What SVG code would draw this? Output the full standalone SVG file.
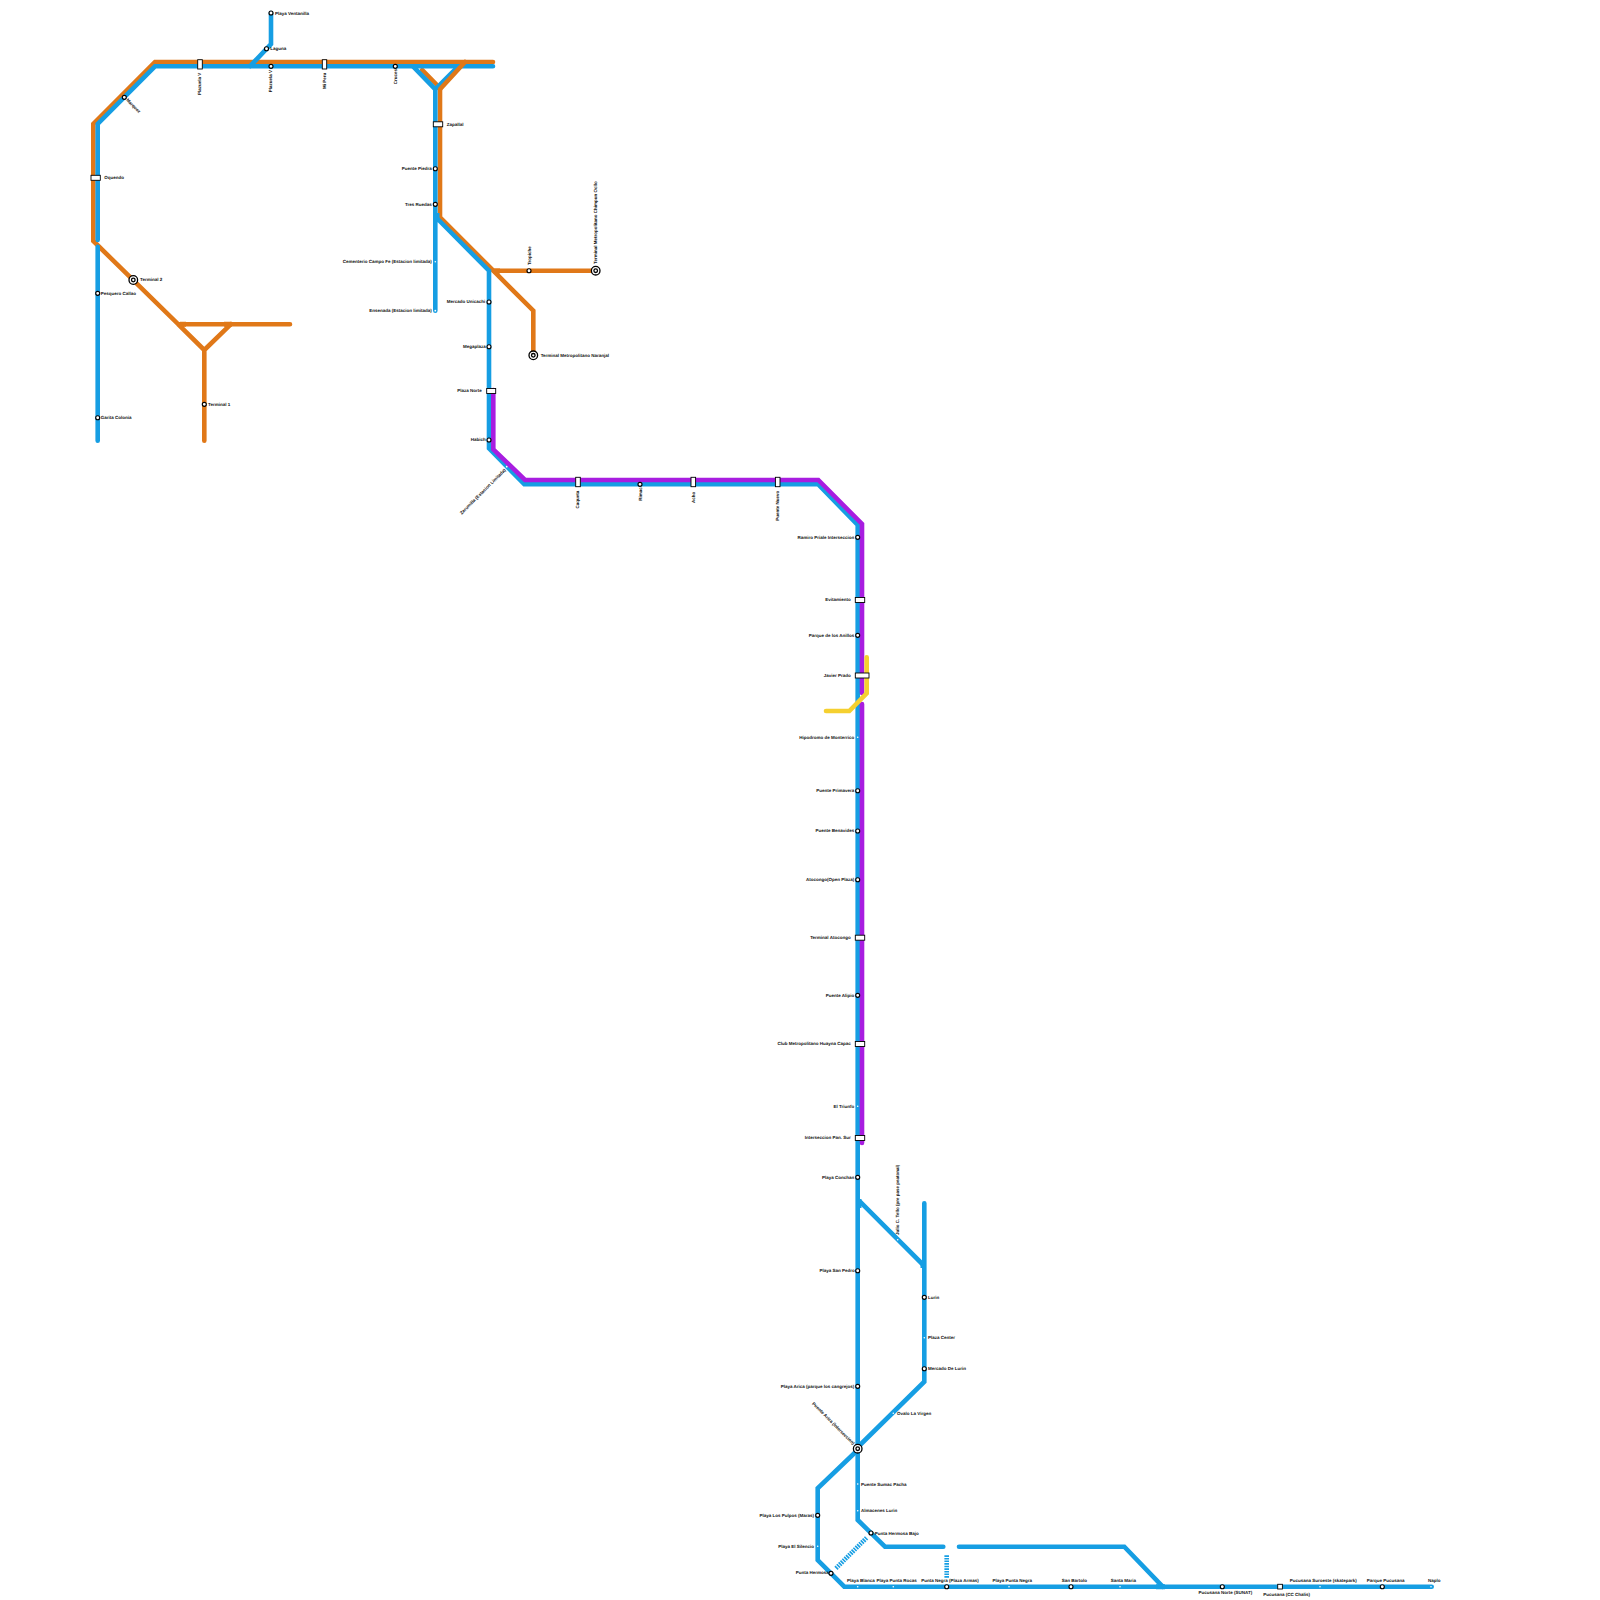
<svg xmlns="http://www.w3.org/2000/svg" width="1600" height="1600" viewBox="0 0 1600 1600">
<defs><style>
.l{fill:none;stroke-width:4.6;stroke-linecap:round;stroke-linejoin:miter}
.t{fill:none;stroke-width:5}
.b{stroke:#169ee3}.o{stroke:#e07818}.p{stroke:#a81de0}.y{stroke:#f5d030}
.d{fill:none;stroke:#169ee3;stroke-width:4.6;stroke-dasharray:1.6 1}
.c{fill:#fff;stroke:#000;stroke-width:1.15}
.h{fill:#fff;stroke:#000;stroke-width:1.3}
.s{fill:#fff;stroke:#000;stroke-width:.9}
.x{fill:#fff}
text{font-family:"Liberation Sans",Arial,sans-serif;font-size:4.5px;font-weight:700;fill:#111;dominant-baseline:central;text-rendering:geometricPrecision}
.e{text-anchor:end}.m{text-anchor:middle}
</style></defs>
<rect width="1600" height="1600" fill="#fff"/>
<g id="connectors">
<path class="l o" d="M493 62H155L93.300 124V241L178.300 324.300H290M178.300 324.300L204.300 350V440.700M204.300 350L230.700 324.300"/>
<path class="t o" d="M180 324.300H186M224 324.300H232"/>
<path class="l o" d="M440 89.300V217.300L493.300 270.700H595.700M493.300 270.700L533.300 310.700V355.300M422.300 70L436 84"/>
<path class="t o" d="M493 271H500"/>
<path class="l b" d="M271 13V44L250 66.300M493 66.300H155L97.700 124V240M97.700 246.700V440.700"/>
<path class="l b" d="M413.300 66.700L435.300 89.300V310.700M435.300 89.300L458 66.700M436.700 218L489 270.700V448.300L524.300 484.300H818.300L857.700 525V1520L885 1546.700H943.300M959 1546.700H1124.300L1162.700 1586.700"/>
<path class="l o" d="M465 62L440 89.300"/>
<path class="l p" d="M493.300 390V449.300L525 480H818.300L862 524V693M862 704V1143"/>
<path class="l b" d="M860 1201.700L923.300 1265M924.300 1203.300V1381.700L860 1445M857.700 1450L817.700 1488.300V1560L844.300 1586.700H1431.700"/>
<path class="t b" d="M859 1199V1208M923 1261V1268M437 213V222M1156 1586.700H1165"/>
<path class="d" d="M836 1568.300L866.700 1537.700M946.700 1555.300V1578"/>
<path class="l y" d="M866.700 657.300V693.300L849.300 711H826"/>
</g>
<g id="st-ventanilla"><circle class="c" cx="271" cy="13" r="2"/><text x="275" y="13">Playa Ventanilla</text></g>
<g id="st-laguna"><circle class="c" cx="266.500" cy="48.700" r="2"/><text x="270.300" y="48.300">Laguna</text></g>
<g id="st-plazuela1"><rect class="s" x="197.700" y="59.700" width="4.600" height="9.300"/><text class="e" transform="translate(199.700 72.700) rotate(-90)">Plazuela V</text></g>
<g id="st-plazuela2"><circle class="c" cx="271" cy="66.300" r="2"/><text class="e" transform="translate(270.700 70) rotate(-90)">Plazuela V</text></g>
<g id="st-miperu"><rect class="s" x="322.300" y="59.700" width="4.400" height="9.300"/><text class="e" transform="translate(324.300 72.700) rotate(-90)">Mi Peru</text></g>
<g id="st-cruces"><circle class="c" cx="395.300" cy="66.300" r="2"/><text class="e" transform="translate(395.300 69) rotate(-90)">Cruces</text></g>
<g id="st-marquez"><circle class="c" cx="124.300" cy="97.300" r="2"/><text transform="translate(127 99.300) rotate(45)">Marquez</text></g>
<g id="st-oquendo"><rect class="s" x="91" y="175.300" width="9.300" height="5"/><text x="104.300" y="177.300">Oquendo</text></g>
<g id="st-terminal2"><circle class="h" cx="133.300" cy="280" r="4.300"/><circle class="h" cx="133.300" cy="280" r="1.800"/><text x="140" y="279.300">Terminal 2</text></g>
<g id="st-pesquero"><circle class="c" cx="97.700" cy="293.300" r="2"/><text x="100.700" y="293">Pesquero Callao</text></g>
<g id="st-garita"><circle class="c" cx="97.700" cy="417.700" r="2"/><text x="100.700" y="417.300">Garita Colonia</text></g>
<g id="st-terminal1"><circle class="c" cx="204.300" cy="404.300" r="2"/><text x="208" y="404">Terminal 1</text></g>
<g id="st-zapallal"><rect class="s" x="433.300" y="121.800" width="9.400" height="5"/><text x="446.700" y="124">Zapallal</text></g>
<g id="st-puentepiedra"><circle class="c" cx="435.300" cy="168.700" r="2"/><text class="e" x="431.700" y="168.300">Puente Piedra</text></g>
<g id="st-tresruedas"><circle class="c" cx="435.300" cy="204.300" r="2"/><text class="e" x="431.700" y="204">Tres Ruedas</text></g>
<g id="st-cementerio"><circle class="x" cx="435.300" cy="261.700" r=".8"/><text class="e" x="431.700" y="261.700">Cementerio Campo Fe (Estacion limitada)</text></g>
<g id="st-ensenada"><circle class="x" cx="435.300" cy="310.700" r=".9"/><text class="e" x="431.700" y="310.500">Ensenada (Estacion limitada)</text></g>
<g id="st-tropiche"><circle class="c" cx="529" cy="270.700" r="2"/><text transform="translate(529 265) rotate(-90)">Tropiche</text></g>
<g id="st-chimpun"><circle class="h" cx="595.700" cy="270.700" r="4.300"/><circle class="h" cx="595.700" cy="270.700" r="1.800"/><text transform="translate(595 264) rotate(-90)">Terminal Metropolitano Chimpun Ocllo</text></g>
<g id="st-naranjal"><circle class="h" cx="533.300" cy="355.300" r="4.300"/><circle class="h" cx="533.300" cy="355.300" r="1.800"/><text x="540.700" y="355">Terminal Metropolitano Naranjal</text></g>
<g id="st-unicachi"><circle class="c" cx="489" cy="302" r="2"/><text class="e" x="485.200" y="301.700">Mercado Unicachi</text></g>
<g id="st-megaplaza"><circle class="c" cx="489" cy="346.700" r="2"/><text class="e" x="485.700" y="346.300">Megaplaza</text></g>
<g id="st-plazanorte"><rect class="s" x="486.700" y="388.500" width="9" height="5"/><text class="e" x="481.700" y="390.700">Plaza Norte</text></g>
<g id="st-habich"><circle class="c" cx="489" cy="440" r="2"/><text class="e" x="485.700" y="439.700">Habich</text></g>
<g id="st-zarumilla"><circle class="x" cx="506.700" cy="466.700" r=".9"/><text class="e" transform="translate(505 469.300) rotate(-45)">Zarumilla (Estacion Limitada)</text></g>
<g id="st-caqueta"><rect class="s" x="575.700" y="477.300" width="4.600" height="9.400"/><text class="e" transform="translate(577.700 490.700) rotate(-90)">Caqueta</text></g>
<g id="st-rimac"><circle class="c" cx="640" cy="484.300" r="2"/><text class="e" transform="translate(640 487.300) rotate(-90)">Rimac</text></g>
<g id="st-acho"><rect class="s" x="691" y="477.300" width="4.600" height="9.400"/><text class="e" transform="translate(693.300 491.700) rotate(-90)">Acho</text></g>
<g id="st-puentenuevo"><rect class="s" x="775.400" y="477.300" width="4.600" height="9.400"/><text class="e" transform="translate(777.700 490.700) rotate(-90)">Puente Nuevo</text></g>
<g id="st-ramiro"><circle class="c" cx="857.700" cy="537.300" r="2"/><text class="e" x="854.300" y="537">Ramiro Priale Interseccion</text></g>
<g id="st-evitamiento"><rect class="s" x="855.300" y="597.500" width="9.400" height="5"/><text class="e" x="850.700" y="599.700">Evitamiento</text></g>
<g id="st-anillos"><circle class="c" cx="857.700" cy="635.300" r="2"/><text class="e" x="854.300" y="635">Parque de los Anillos</text></g>
<g id="st-javier"><rect class="s" x="855.300" y="673" width="13.700" height="5"/><text class="e" x="850.700" y="675.200">Javier Prado</text></g>
<g id="st-hipodromo"><circle class="x" cx="857.700" cy="737.300" r=".8"/><text class="e" x="854.300" y="737">Hipodromo de Monterrico</text></g>
<g id="st-primavera"><circle class="c" cx="857.700" cy="790.700" r="2"/><text class="e" x="854.300" y="790.300">Puente Primavera</text></g>
<g id="st-benavides"><circle class="c" cx="857.700" cy="831" r="2"/><text class="e" x="854.300" y="830.700">Puente Benavides</text></g>
<g id="st-atocongo"><circle class="c" cx="857.700" cy="879.700" r="2"/><text class="e" x="854.300" y="879.300">Atocongo(Open Plaza)</text></g>
<g id="st-tatocongo"><rect class="s" x="855.300" y="935.200" width="9.400" height="5"/><text class="e" x="850.700" y="937.300">Terminal Atocongo</text></g>
<g id="st-alipio"><circle class="c" cx="857.700" cy="995.300" r="2"/><text class="e" x="854.300" y="995">Puente Alipio</text></g>
<g id="st-club"><rect class="s" x="855.300" y="1041.500" width="9.400" height="5"/><text class="e" x="850.700" y="1043.800">Club Metropolitano Huayna Capac</text></g>
<g id="st-triunfo"><circle class="x" cx="857.700" cy="1106.300" r=".8"/><text class="e" x="854.300" y="1106">El Triunfo</text></g>
<g id="st-interseccion"><rect class="s" x="855.300" y="1135.500" width="9.400" height="5"/><text class="e" x="850.700" y="1137.700">Interseccion Pan. Sur</text></g>
<g id="st-conchan"><circle class="c" cx="857.700" cy="1177.300" r="2"/><text class="e" x="854.300" y="1177">Playa Conchan</text></g>
<g id="st-tello"><circle class="x" cx="897.700" cy="1239.700" r=".8"/><text transform="translate(897.700 1235) rotate(-90)">Julio C. Tello (pre pase peatonal)</text></g>
<g id="st-sanpedro"><circle class="c" cx="857.700" cy="1270.700" r="2"/><text class="e" x="854.700" y="1270.300">Playa San Pedro</text></g>
<g id="st-lurin"><circle class="c" cx="924.300" cy="1297.300" r="2"/><text x="928" y="1297">Lurin</text></g>
<g id="st-plazacenter"><circle class="x" cx="924.300" cy="1337.700" r=".8"/><text x="928" y="1337.300">Plaza Center</text></g>
<g id="st-mercadolurin"><circle class="c" cx="924.300" cy="1368.700" r="2"/><text x="928" y="1368.300">Mercado De Lurin</text></g>
<g id="st-arica"><circle class="c" cx="857.700" cy="1386.300" r="2"/><text class="e" x="854.300" y="1386">Playa Arica (parque los cangrejos)</text></g>
<g id="st-ovalo"><circle class="x" cx="893.300" cy="1413.300" r=".8"/><text x="897" y="1413">Ovalo La Virgen</text></g>
<g id="st-puentearica"><circle class="h" cx="857.700" cy="1448.700" r="4.300"/><circle class="h" cx="857.700" cy="1448.700" r="1.800"/><text class="e" transform="translate(854 1444) rotate(45)">Puente Arica (Interseccion)</text></g>
<g id="st-sumac"><circle class="x" cx="857.700" cy="1484" r=".8"/><text x="861" y="1484">Puente Sumac Pacha</text></g>
<g id="st-almacenes"><circle class="x" cx="857.700" cy="1510.700" r=".8"/><text x="861" y="1510.500">Almacenes Lurin</text></g>
<g id="st-phbajo"><circle class="c" cx="871" cy="1533" r="2"/><text x="874.700" y="1533">Punta Hermosa Bajo</text></g>
<g id="st-pulpos"><circle class="c" cx="817.700" cy="1515.300" r="2"/><text class="e" x="814" y="1515">Playa Los Pulpos (Maras)</text></g>
<g id="st-silencio"><circle class="x" cx="817.700" cy="1546.300" r=".8"/><text class="e" x="814" y="1546">Playa El Silencio</text></g>
<g id="st-phermosa"><circle class="c" cx="831" cy="1573.300" r="2"/><text class="e" x="828.700" y="1572.700">Punta Hermosa</text></g>
<g id="st-blanca"><circle class="x" cx="857.700" cy="1586.700" r=".8"/><text class="m" x="861" y="1580.700">Playa Blanca</text></g>
<g id="st-rocas"><circle class="x" cx="893.300" cy="1586.700" r=".8"/><text class="m" x="896.700" y="1580.700">Playa Punta Rocas</text></g>
<g id="st-negra"><circle class="c" cx="946.700" cy="1586.700" r="2"/><text class="m" x="950" y="1580.700">Punta Negra (Plaza Armas)</text></g>
<g id="st-pnegra"><circle class="x" cx="1009" cy="1586.700" r=".8"/><text class="m" x="1012.300" y="1580.700">Playa Punta Negra</text></g>
<g id="st-bartolo"><circle class="c" cx="1071" cy="1586.700" r="2"/><text class="m" x="1074.300" y="1580.700">San Bartolo</text></g>
<g id="st-maria"><circle class="x" cx="1120" cy="1586.700" r=".8"/><text class="m" x="1123.300" y="1580.700">Santa Maria</text></g>
<g id="st-pnorte"><circle class="c" cx="1222.300" cy="1586.700" r="2"/><text class="m" x="1225.300" y="1592">Pucusana Norte (SUNAT)</text></g>
<g id="st-pucusana"><rect class="s" x="1277.700" y="1584.300" width="4.700" height="4.700"/><text class="m" x="1286.700" y="1594">Pucusana (CC Chalis)</text></g>
<g id="st-suroeste"><circle class="x" cx="1320" cy="1586.700" r=".8"/><text class="m" x="1323.300" y="1580.700">Pucusana Suroeste (skatepark)</text></g>
<g id="st-parque"><circle class="c" cx="1382.300" cy="1586.700" r="2"/><text class="m" x="1385.700" y="1580.700">Parque Pucusana</text></g>
<g id="st-naplo"><circle class="x" cx="1431" cy="1586.700" r=".8"/><text class="m" x="1434.300" y="1580.700">Naplo</text></g>
</svg>
